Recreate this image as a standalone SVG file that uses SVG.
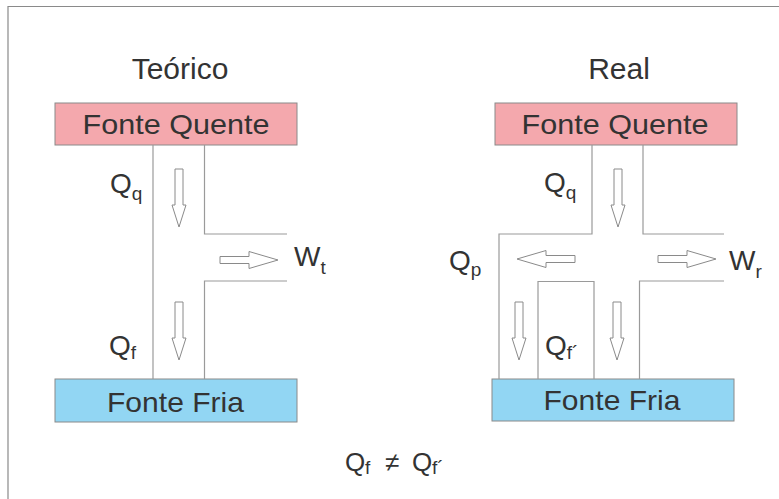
<svg xmlns="http://www.w3.org/2000/svg" width="779" height="499" viewBox="0 0 779 499">
  <style>
    text { font-family: "Liberation Sans", Arial, sans-serif; fill: #333; }
    .title { font-size: 30px; text-anchor: middle; }
    .box { font-size: 28px; text-anchor: middle; }
    .lbl { font-size: 28px; }
    .sub { font-size: 19px; }
    .eq { font-size: 26px; }
    .eqsub { font-size: 19px; }
    .hot { fill: #f4a8ad; stroke: #8a8a8a; stroke-width: 1; }
    .cold { fill: #92d6f3; stroke: #8a8a8a; stroke-width: 1; }
    .wall { fill: none; stroke: #9a9a9a; stroke-width: 1.2; }
    .arr { fill: #fff; stroke: #8a8a8a; stroke-width: 1; }
  </style>
  <defs>
    <path id="arrow-down" d="M-4,0 H4 V36 H7 L0,58 L-7,36 H-4 Z"/>
    <path id="arrow-right" d="M0,-3.5 H29 V-8.5 L58,0 L29,8.5 V3.5 H0 Z"/>
  </defs>

  <rect width="779" height="499" fill="#fff"/>
  <!-- page frame -->
  <path d="M8,499 V6.5 H779" fill="none" stroke="#8a8a8a" stroke-width="1.2"/>

  <!-- titles -->
  <text class="title" x="180" y="79">Teórico</text>
  <text class="title" x="619" y="79">Real</text>

  <!-- ideal engine -->
  <g id="teorico-quente">
    <rect class="hot" x="55" y="103" width="242" height="42"/>
    <text class="box" x="176" y="134" textLength="187" lengthAdjust="spacingAndGlyphs">Fonte Quente</text>
  </g>
  <g id="teorico-fria">
    <rect class="cold" x="55" y="379" width="242" height="43"/>
    <text class="box" x="175.5" y="412" textLength="137" lengthAdjust="spacingAndGlyphs">Fonte Fria</text>
  </g>

  <!-- real engine -->
  <g id="real-quente">
    <rect class="hot" x="495" y="103" width="242" height="42"/>
    <text class="box" x="615" y="134" textLength="187" lengthAdjust="spacingAndGlyphs">Fonte Quente</text>
  </g>
  <g id="real-fria">
    <rect class="cold" x="492" y="379" width="242" height="42"/>
    <text class="box" x="612" y="410" textLength="137" lengthAdjust="spacingAndGlyphs">Fonte Fria</text>
  </g>

  <!-- heat channels and flow arrows -->
  <g id="connectors">
    <!-- ideal channel -->
    <path class="wall" d="M153,145 V379"/>
    <path class="wall" d="M204.5,145 V234 H287"/>
    <path class="wall" d="M287,281 H204.5 V379"/>
    <!-- real channel -->
    <path class="wall" d="M592,145 V234 H499 V379"/>
    <path class="wall" d="M643,145 V234 H724"/>
    <path class="wall" d="M724,281 H639.5 V379"/>
    <path class="wall" d="M538,379 V281.5 H594 V379"/>

    <use href="#arrow-down" class="arr" x="179" y="169"/>
    <use href="#arrow-down" class="arr" x="179" y="302"/>
    <use href="#arrow-right" class="arr" x="220" y="260"/>

    <use href="#arrow-down" class="arr" x="618" y="169"/>
    <use href="#arrow-down" class="arr" x="519" y="302"/>
    <use href="#arrow-down" class="arr" x="617" y="302"/>
    <use href="#arrow-right" class="arr" x="658" y="259"/>
    <use href="#arrow-right" class="arr" transform="translate(575,259) scale(-1,1)"/>
  </g>

  <!-- flow labels -->
  <text class="lbl" x="110" y="193">Q<tspan class="sub" dy="7">q</tspan></text>
  <text class="lbl" x="109" y="355">Q<tspan class="sub" dy="4">f</tspan></text>
  <text class="lbl" x="294" y="266">W<tspan class="sub" dy="8">t</tspan></text>

  <text class="lbl" x="544" y="192">Q<tspan class="sub" dy="7">q</tspan></text>
  <text class="lbl" x="449" y="270">Q<tspan class="sub" dy="6">p</tspan></text>
  <text class="lbl" x="729" y="270">W<tspan class="sub" dy="8">r</tspan></text>
  <text class="lbl" x="545" y="355">Q<tspan class="sub" dy="4">f´</tspan></text>

  <!-- inequality -->
  <text class="eq" x="345" y="471">Q</text>
  <text class="eqsub" x="365" y="474">f</text>
  <text class="eq" x="385" y="471">≠</text>
  <text class="eq" x="412" y="471">Q</text>
  <text class="eqsub" x="432" y="474">f´</text>
</svg>
